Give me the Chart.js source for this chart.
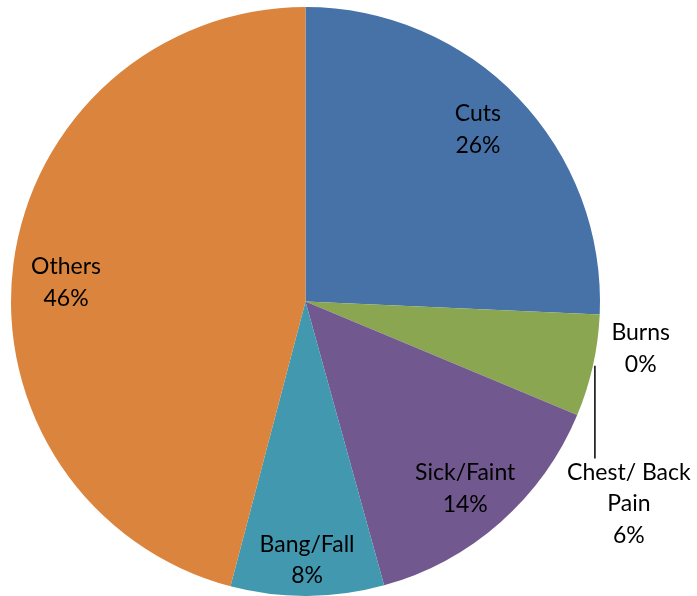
<!DOCTYPE html>
<html>
<head>
<meta charset="utf-8">
<script src="https://cdn.jsdelivr.net/npm/chart.js@4"></script>
<style>
  html, body { margin: 0; padding: 0; background: #fff; }
  canvas { display: block; }
</style>
</head>
<body>
<canvas id="pie" width="697" height="596"></canvas>
<script>
// categories and values (percent of incidents)
const categories = ['Cuts', 'Burns', 'Chest/ Back\nPain', 'Sick/Faint', 'Bang/Fall', 'Others'];
const values = [25.7, 0, 5.6, 14.4, 8.4, 45.9];
const colours = ['#4672A8', '#AA4643', '#8BA650', '#71588F', '#4198AF', '#DB843D'];

// label placement: outside labels are offset from the slice edge,
// inside labels sit at 0.82 radius with a small nudge
const outside = {
    1: { dx: 41, dy: 34, leader: false },
    2: { dx: 36, dy: 138, leader: true }
};
const nudge = {
    0: { dx: -2, dy: -5 },
    3: { dx: 0, dy: 6 },
    4: { dx: 0, dy: 17 },
    5: { dx: 0, dy: 12 }
};

const pieLabels = {
    id: 'pieLabels',
    afterDatasetsDraw(chart) {
        const ctx = chart.ctx;
        const meta = chart.getDatasetMeta(0);
        const total = values.reduce((a, b) => a + b, 0);
        const lineH = 31.5;
        ctx.save();
        ctx.font = '23px Lato';
        ctx.fillStyle = '#000';
        ctx.textAlign = 'center';
        ctx.textBaseline = 'middle';
        meta.data.forEach((arc, i) => {
            const mid = (arc.startAngle + arc.endAngle) / 2;
            const r = arc.outerRadius;
            let x, y;
            const lines = categories[i].split('\n');
            lines.push(Math.round(values[i] / total * 100) + '%');
            if (outside[i]) {
                const ex = arc.x + Math.cos(mid) * r;
                const ey = arc.y + Math.sin(mid) * r;
                x = ex + outside[i].dx;
                y = ey + outside[i].dy;
                if (outside[i].leader) {
                    const top = y - (lines.length * lineH) / 2 + 2;
                    ctx.strokeStyle = '#000';
                    ctx.lineWidth = 1.5;
                    ctx.beginPath();
                    ctx.moveTo(ex + 2, ey);
                    ctx.lineTo(ex + 2, top);
                    ctx.stroke();
                }
            } else {
                const n = nudge[i] || { dx: 0, dy: 0 };
                x = arc.x + Math.cos(mid) * r * 0.82 + n.dx;
                y = arc.y + Math.sin(mid) * r * 0.82 + n.dy;
            }
            const y0 = y - (lines.length - 1) * lineH / 2;
            lines.forEach((t, k) => ctx.fillText(t, x, y0 + k * lineH));
        });
        ctx.restore();
    }
};

new Chart(document.getElementById('pie'), {
    type: 'pie',
    data: {
        labels: categories,
        datasets: [{
            data: values,
            backgroundColor: colours,
            borderWidth: 0
        }]
    },
    options: {
        responsive: false,
        animation: false,
        layout: { padding: { top: 7, bottom: 0, left: 11, right: 97 } },
        plugins: {
            legend: { display: false },
            tooltip: { enabled: false }
        }
    },
    plugins: [pieLabels]
});
</script>
</body>
</html>
